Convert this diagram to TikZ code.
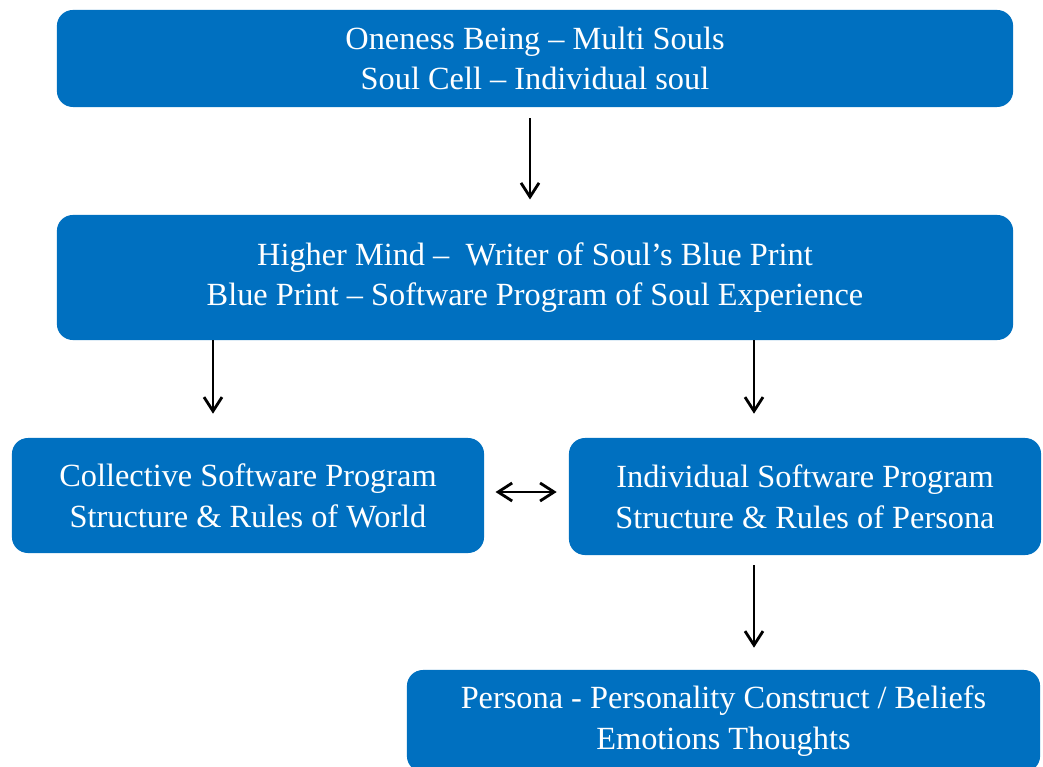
\documentclass[tikz,border=0pt]{standalone}
\usepackage{fontspec}
\setmainfont{Liberation Serif}
\usepackage{tikz}
\usetikzlibrary{arrows.meta}
\definecolor{boxblue}{RGB}{0,112,192}

\begin{document}
\begin{tikzpicture}
    [x=0.025cm, y=-0.025cm,
 block/.style ={rectangle, fill=boxblue, text=white, align=center, rounded corners=0.4cm, font=\fontsize{23}{29}\selectfont},
 line/.style ={draw, line width=2pt, -{Straight Barb[length=3.5mm,width=4.5mm]}}]
        \clip (0,0) rectangle (1043,767);
        \useasboundingbox (0,0) rectangle (1043,767);
        \node[block, minimum width=23.9cm, minimum height=2.425cm] (oneness) at (535, 58.5) {Oneness Being -- Multi Souls\\Soul Cell -- Individual soul};
        \node[block, minimum width=23.9cm, minimum height=3.125cm] (higher) at (535, 277.5) {Higher Mind --\ \ Writer of Soul's Blue Print\\Blue Print -- Software Program of Soul Experience};
        \node[block, minimum width=11.8cm, minimum height=2.875cm] (collective) at (248, 495.5) {Collective Software Program\\Structure \& Rules of World};
        \node[block, minimum width=11.8cm, minimum height=2.925cm] (individual) at (805, 496.5) {Individual Software Program\\Structure \& Rules of Persona};
        \node[block, minimum width=15.825cm, minimum height=2.55cm] (persona) at (723.5, 721) {Persona - Personality Construct / Beliefs\\Emotions Thoughts};
        \draw[line, shorten <=0.28cm, shorten >=0.38cm] (oneness.south -| 530,0) -- (higher.north -| 530,0);
        \draw[line, shorten >=0.6cm] (higher.south -| 213,0) -- (collective.north -| 213,0);
        \draw[line, shorten >=0.6cm] (higher.south -| 754,0) -- (individual.north -| 754,0);
        \draw[line, shorten <=0.25cm, shorten >=0.55cm] (individual.south -| 754,0) -- (persona.north -| 754,0);
        \draw[line, {Straight Barb[length=3.5mm,width=4.5mm]}-{Straight Barb[length=3.5mm,width=4.5mm]}, shorten <=0.28cm, shorten >=0.3cm] (collective.east |- 0,492) -- (individual.west |- 0,492);
    \end{tikzpicture}
\end{document}
